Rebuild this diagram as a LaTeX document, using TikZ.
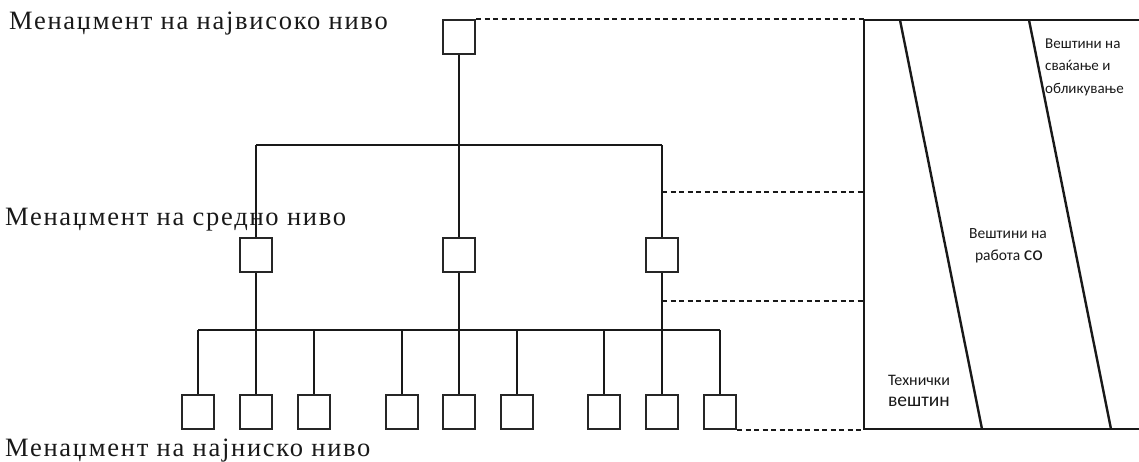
\documentclass[tikz,border=0pt]{standalone}
\usepackage{fontspec}
\setmainfont{Liberation Serif}
\newfontfamily\lblfont[LetterSpace=6.5]{Liberation Serif}
\newfontfamily\carl{Carlito}
\begin{document}
\begin{tikzpicture}[x=1pt,y=-1pt,
  bx/.style={draw=black!85,line width=2pt,minimum width=32pt,minimum height=34pt,inner sep=0pt,fill=white},
  ln/.style={line width=2pt,black!90},
  dl/.style={line width=2pt,dash pattern=on 5pt off 3.5pt,black!90},
  pl/.style={line width=2.4pt,black!90,line join=miter},
  lbl/.style={font=\lblfont\fontsize{26.5}{30}\selectfont,anchor=base west,inner sep=0pt,text=black!90},
  sk/.style={font=\carl\fontsize{15}{18}\selectfont,inner sep=0pt,text=black!90,anchor=base}]
\useasboundingbox (0,0) rectangle (1139,461);
% boxes
\node[bx] (t) at (459,37) {};
\node[bx] (m1) at (256,255) {};
\node[bx] (m2) at (459,255) {};
\node[bx] (m3) at (662,255) {};
\foreach \i/\x in {1/198,2/256,3/314,4/402,5/459,6/517,7/604,8/662,9/720}
  \node[bx] (b\i) at (\x,412) {};
% tree connectors
\coordinate (h1) at (256,145);
\coordinate (h3) at (662,145);
\coordinate (hb1) at (198,330);
\coordinate (hb9) at (720,330);
\draw[ln] (t.south) -- (m2.north);
\draw[ln] (h1) -- (h3);
\draw[ln] (h1) -- (m1.north);
\draw[ln] (h3) -- (m3.north);
\draw[ln] (m1.south) -- (b2.north);
\draw[ln] (m2.south) -- (b5.north);
\draw[ln] (m3.south) -- (b8.north);
\draw[ln] (hb1) -- (hb9);
\foreach \i in {1,3,4,6,7,9}
  \draw[ln] (b\i.north |- hb1) -- (b\i.north);
% right panel
\coordinate (P1) at (864,20);
\coordinate (P2) at (1139,20);
\coordinate (P3) at (1139,429);
\coordinate (P4) at (864,429);
\coordinate (S1) at (900,20);
\coordinate (S2) at (982,429);
\coordinate (S3) at (1029,20);
\coordinate (S4) at (1111,429);
\draw[pl] (P2) -- (P1) -- (P4) -- (P3);
\draw[pl] (S1) -- (S2);
\draw[pl] (S3) -- (S4);
% dashed links
\coordinate (d1) at (662,192);
\coordinate (d2) at (662,301);
\draw[dl] (t.north east) -- (t.north east -| P1);
\draw[dl] (d1) -- (d1 -| P1);
\draw[dl] (d2) -- (d2 -| P1);
\draw[dl] (b9.south east) -- (b9.south east -| P1);
% left labels
\node[lbl] (l1) at (9,29) {Менаџмент на највисоко ниво};
\node[lbl] (l2) at (5,225) {Менаџмент на средно ниво};
\node[lbl] (l3) at (5,456) {Менаџмент на најниско ниво};
% right labels
\node[sk,anchor=base west] (r1a) at (1045,48) {Вештини на};
\node[sk,anchor=base west] (r1b) at (1045,70) {сваќање и};
\node[sk,anchor=base west] (r1c) at (1045,93) {обликување};
\node[sk,font=\carl\fontsize{15.5}{18}\selectfont] (r2a) at (1008,238) {Вештини на};
\node[sk,font=\carl\fontsize{15.5}{18}\selectfont] (r2b) at (1009,260) {работа {\fontsize{20}{22}\selectfont со}};
\node[sk,font=\carl\fontsize{16}{18}\selectfont] (r3a) at (919,385) {Технички};
\node[sk,font=\carl\fontsize{19.5}{22}\selectfont] (r3b) at (919,406) {вештин};
\end{tikzpicture}
\end{document}
